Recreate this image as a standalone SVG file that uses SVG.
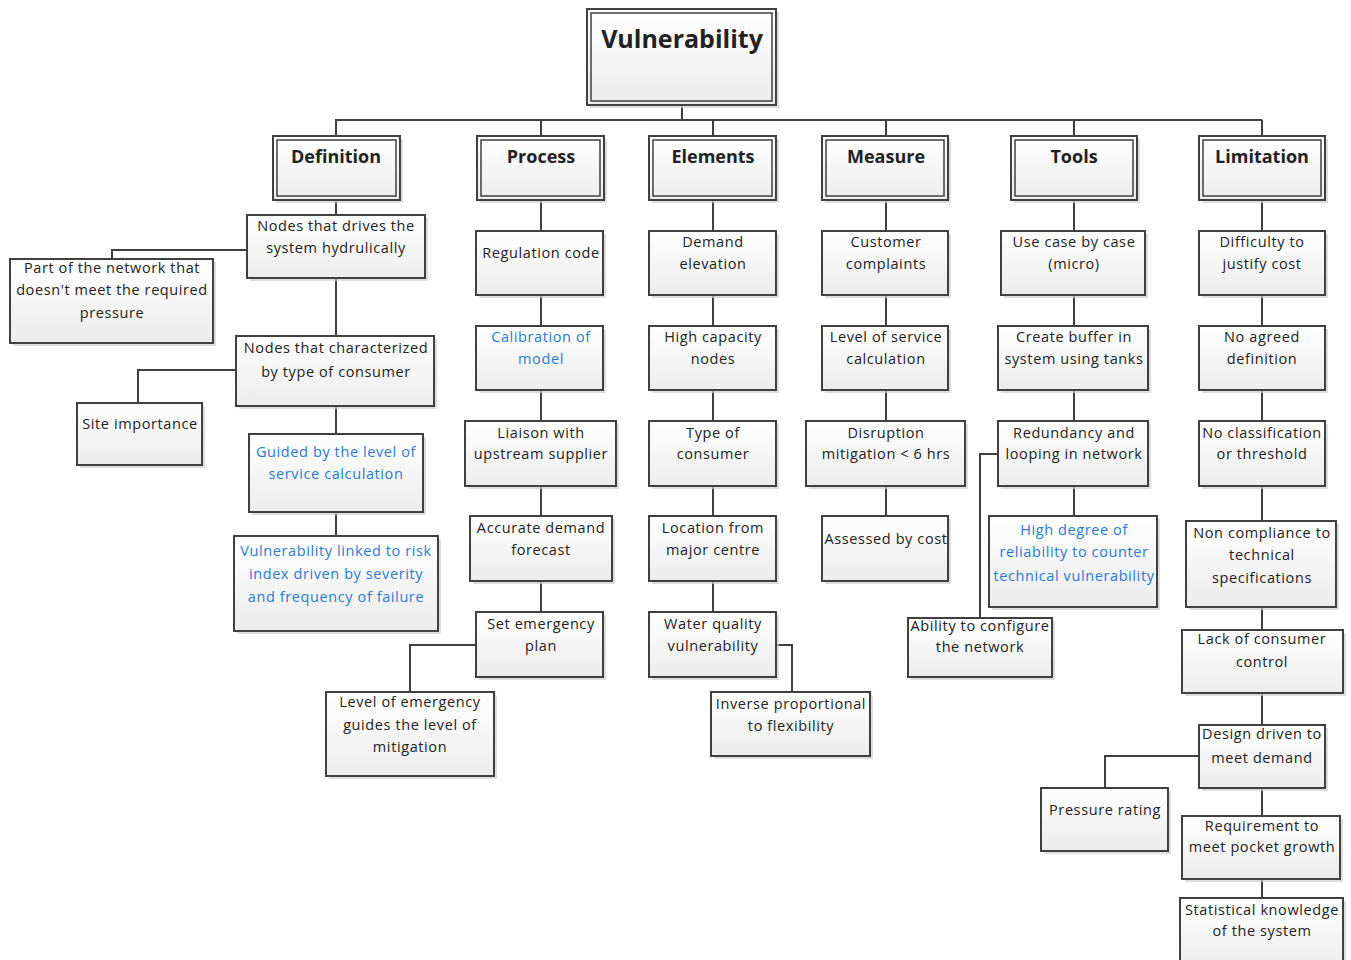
<svg xmlns="http://www.w3.org/2000/svg" width="1351" height="960" viewBox="0 0 1351 960">
  <defs>
    <linearGradient id="fillGrad" x1="0" y1="0" x2="0" y2="1">
      <stop offset="0" stop-color="#ffffff"/>
      <stop offset="1" stop-color="#ececec"/>
    </linearGradient>
    <style>
      .sh { fill: #cfcfcf; opacity: 0.7; }
      .box { fill: url(#fillGrad); stroke: #404040; stroke-width: 2; }
      .inner { fill: none; stroke: #404040; stroke-width: 1.5; }
      .t { font-family: "Open Sans", "Liberation Sans", sans-serif; font-size: 14.5px; letter-spacing: 0.6px; fill: #222; text-anchor: middle; }
      .b { fill: #2a7bd0; }
      .h { font-family: "Open Sans", "Liberation Sans", sans-serif; font-size: 18px; font-weight: bold; fill: #222; text-anchor: middle; }
      .top { font-size: 25px; }
      .c { fill: none; stroke: #404040; stroke-width: 2; }
    </style>
  </defs>
  <rect width="1351" height="960" fill="#ffffff"/>

  <!-- connectors -->
  <g id="connectors" class="c">
    <path d="M682 105 V120 M335 120 H1262 M336 120 V136 M541 120 V136 M713 120 V136 M886 120 V136 M1074 120 V136 M1262 120 V136"/>
    <!-- Definition -->
    <path d="M336 200 V215 M336 278 V336 M336 406 V434 M336 512 V536"/>
    <path d="M247 250 H112 V259"/>
    <path d="M236 370 H138 V403"/>
    <!-- Process -->
    <path d="M541 200 V231 M541 295 V326 M541 390 V421 M541 486 V516 M541 581 V612"/>
    <path d="M476 645 H410 V692"/>
    <!-- Elements -->
    <path d="M713 200 V231 M713 295 V326 M713 390 V421 M713 486 V516 M713 581 V612"/>
    <path d="M776 645 H792 V692"/>
    <!-- Measure -->
    <path d="M886 200 V231 M886 295 V326 M886 390 V421 M886 486 V516"/>
    <!-- Tools -->
    <path d="M1074 200 V231 M1074 295 V326 M1074 390 V421 M1074 486 V516"/>
    <path d="M998 454 H980 V618"/>
    <!-- Limitation -->
    <path d="M1262 200 V231 M1262 295 V326 M1262 390 V421 M1262 486 V521 M1262 607 V630 M1262 693 V725 M1262 788 V816 M1262 879 V898"/>
    <path d="M1199 756 H1105 V788"/>
  </g>

  <!-- root -->
  <g id="n-vulnerability">
    <rect class="sh" x="590" y="12" width="189" height="96"/>
    <rect class="box" x="587" y="9" width="189" height="96"/>
    <rect class="inner" x="591" y="13" width="181" height="88"/>
    <text class="h top" x="682" y="48">Vulnerability</text>
  </g>

  <!-- headers -->
  <g id="n-definition">
    <rect class="sh" x="276" y="139" width="127" height="64"/>
    <rect class="box" x="273" y="136" width="127" height="64"/>
    <rect class="inner" x="277" y="140" width="119" height="56"/>
    <text class="h" x="336" y="163">Definition</text>
  </g>
  <g id="n-process">
    <rect class="sh" x="480" y="139" width="127" height="64"/>
    <rect class="box" x="477" y="136" width="127" height="64"/>
    <rect class="inner" x="481" y="140" width="119" height="56"/>
    <text class="h" x="541" y="163">Process</text>
  </g>
  <g id="n-elements">
    <rect class="sh" x="652" y="139" width="127" height="64"/>
    <rect class="box" x="649" y="136" width="127" height="64"/>
    <rect class="inner" x="653" y="140" width="119" height="56"/>
    <text class="h" x="713" y="163">Elements</text>
  </g>
  <g id="n-measure">
    <rect class="sh" x="825" y="139" width="126" height="64"/>
    <rect class="box" x="822" y="136" width="126" height="64"/>
    <rect class="inner" x="826" y="140" width="118" height="56"/>
    <text class="h" x="886" y="163">Measure</text>
  </g>
  <g id="n-tools">
    <rect class="sh" x="1014" y="139" width="126" height="64"/>
    <rect class="box" x="1011" y="136" width="126" height="64"/>
    <rect class="inner" x="1015" y="140" width="118" height="56"/>
    <text class="h" x="1074" y="163">Tools</text>
  </g>
  <g id="n-limitation">
    <rect class="sh" x="1202" y="139" width="126" height="64"/>
    <rect class="box" x="1199" y="136" width="126" height="64"/>
    <rect class="inner" x="1203" y="140" width="118" height="56"/>
    <text class="h" x="1262" y="163">Limitation</text>
  </g>

  <!-- Definition branch -->
  <g id="n-def-1">
    <rect class="sh" x="250" y="218" width="178" height="63"/>
    <rect class="box" x="247" y="215" width="178" height="63"/>
    <text class="t" x="336" y="231">Nodes that drives the</text>
    <text class="t" x="336" y="253">system hydrulically</text>
  </g>
  <g id="n-def-1a">
    <rect class="sh" x="13" y="262" width="203" height="84"/>
    <rect class="box" x="10" y="259" width="203" height="84"/>
    <text class="t" x="112" y="273">Part of the network that</text>
    <text class="t" x="112" y="295">doesn't meet the required</text>
    <text class="t" x="112" y="318">pressure</text>
  </g>
  <g id="n-def-2">
    <rect class="sh" x="239" y="339" width="198" height="70"/>
    <rect class="box" x="236" y="336" width="198" height="70"/>
    <text class="t" x="336" y="353">Nodes that characterized</text>
    <text class="t" x="336" y="377">by type of consumer</text>
  </g>
  <g id="n-def-2a">
    <rect class="sh" x="80" y="406" width="125" height="62"/>
    <rect class="box" x="77" y="403" width="125" height="62"/>
    <text class="t" x="140" y="429">Site importance</text>
  </g>
  <g id="n-def-3">
    <rect class="sh" x="252" y="437" width="174" height="78"/>
    <rect class="box" x="249" y="434" width="174" height="78"/>
    <text class="t b" x="336" y="457">Guided by the level of</text>
    <text class="t b" x="336" y="479">service calculation</text>
  </g>
  <g id="n-def-4">
    <rect class="sh" x="237" y="539" width="204" height="95"/>
    <rect class="box" x="234" y="536" width="204" height="95"/>
    <text class="t b" x="336" y="556">Vulnerability linked to risk</text>
    <text class="t b" x="336" y="579">index driven by severity</text>
    <text class="t b" x="336" y="602">and frequency of failure</text>
  </g>

  <!-- Process branch -->
  <g id="n-pro-1">
    <rect class="sh" x="479" y="234" width="127" height="64"/>
    <rect class="box" x="476" y="231" width="127" height="64"/>
    <text class="t" x="541" y="258">Regulation code</text>
  </g>
  <g id="n-pro-2">
    <rect class="sh" x="479" y="329" width="127" height="64"/>
    <rect class="box" x="476" y="326" width="127" height="64"/>
    <text class="t b" x="541" y="342">Calibration of</text>
    <text class="t b" x="541" y="364">model</text>
  </g>
  <g id="n-pro-3">
    <rect class="sh" x="468" y="424" width="151" height="65"/>
    <rect class="box" x="465" y="421" width="151" height="65"/>
    <text class="t" x="541" y="438">Liaison with</text>
    <text class="t" x="541" y="459">upstream supplier</text>
  </g>
  <g id="n-pro-4">
    <rect class="sh" x="473" y="519" width="142" height="65"/>
    <rect class="box" x="470" y="516" width="142" height="65"/>
    <text class="t" x="541" y="533">Accurate demand</text>
    <text class="t" x="541" y="555">forecast</text>
  </g>
  <g id="n-pro-5">
    <rect class="sh" x="479" y="615" width="127" height="65"/>
    <rect class="box" x="476" y="612" width="127" height="65"/>
    <text class="t" x="541" y="629">Set emergency</text>
    <text class="t" x="541" y="651">plan</text>
  </g>
  <g id="n-pro-5a">
    <rect class="sh" x="329" y="695" width="168" height="84"/>
    <rect class="box" x="326" y="692" width="168" height="84"/>
    <text class="t" x="410" y="707">Level of emergency</text>
    <text class="t" x="410" y="730">guides the level of</text>
    <text class="t" x="410" y="752">mitigation</text>
  </g>

  <!-- Elements branch -->
  <g id="n-ele-1">
    <rect class="sh" x="652" y="234" width="127" height="64"/>
    <rect class="box" x="649" y="231" width="127" height="64"/>
    <text class="t" x="713" y="247">Demand</text>
    <text class="t" x="713" y="269">elevation</text>
  </g>
  <g id="n-ele-2">
    <rect class="sh" x="652" y="329" width="127" height="64"/>
    <rect class="box" x="649" y="326" width="127" height="64"/>
    <text class="t" x="713" y="342">High capacity</text>
    <text class="t" x="713" y="364">nodes</text>
  </g>
  <g id="n-ele-3">
    <rect class="sh" x="652" y="424" width="127" height="65"/>
    <rect class="box" x="649" y="421" width="127" height="65"/>
    <text class="t" x="713" y="438">Type of</text>
    <text class="t" x="713" y="459">consumer</text>
  </g>
  <g id="n-ele-4">
    <rect class="sh" x="652" y="519" width="127" height="65"/>
    <rect class="box" x="649" y="516" width="127" height="65"/>
    <text class="t" x="713" y="533">Location from</text>
    <text class="t" x="713" y="555">major centre</text>
  </g>
  <g id="n-ele-5">
    <rect class="sh" x="652" y="615" width="127" height="65"/>
    <rect class="box" x="649" y="612" width="127" height="65"/>
    <text class="t" x="713" y="629">Water quality</text>
    <text class="t" x="713" y="651">vulnerability</text>
  </g>
  <g id="n-ele-5a">
    <rect class="sh" x="714" y="695" width="159" height="64"/>
    <rect class="box" x="711" y="692" width="159" height="64"/>
    <text class="t" x="791" y="709">Inverse proportional</text>
    <text class="t" x="791" y="731">to flexibility</text>
  </g>

  <!-- Measure branch -->
  <g id="n-mea-1">
    <rect class="sh" x="825" y="234" width="126" height="64"/>
    <rect class="box" x="822" y="231" width="126" height="64"/>
    <text class="t" x="886" y="247">Customer</text>
    <text class="t" x="886" y="269">complaints</text>
  </g>
  <g id="n-mea-2">
    <rect class="sh" x="825" y="329" width="126" height="64"/>
    <rect class="box" x="822" y="326" width="126" height="64"/>
    <text class="t" x="886" y="342">Level of service</text>
    <text class="t" x="886" y="364">calculation</text>
  </g>
  <g id="n-mea-3">
    <rect class="sh" x="809" y="424" width="159" height="65"/>
    <rect class="box" x="806" y="421" width="159" height="65"/>
    <text class="t" x="886" y="438">Disruption</text>
    <text class="t" x="886" y="459">mitigation &lt; 6 hrs</text>
  </g>
  <g id="n-mea-4">
    <rect class="sh" x="825" y="519" width="126" height="65"/>
    <rect class="box" x="822" y="516" width="126" height="65"/>
    <text class="t" x="886" y="544">Assessed by cost</text>
  </g>

  <!-- Tools branch -->
  <g id="n-too-1">
    <rect class="sh" x="1004" y="234" width="144" height="64"/>
    <rect class="box" x="1001" y="231" width="144" height="64"/>
    <text class="t" x="1074" y="247">Use case by case</text>
    <text class="t" x="1074" y="269">(micro)</text>
  </g>
  <g id="n-too-2">
    <rect class="sh" x="1001" y="329" width="150" height="64"/>
    <rect class="box" x="998" y="326" width="150" height="64"/>
    <text class="t" x="1074" y="342">Create buffer in</text>
    <text class="t" x="1074" y="364">system using tanks</text>
  </g>
  <g id="n-too-3">
    <rect class="sh" x="1001" y="424" width="150" height="65"/>
    <rect class="box" x="998" y="421" width="150" height="65"/>
    <text class="t" x="1074" y="438">Redundancy and</text>
    <text class="t" x="1074" y="459">looping in network</text>
  </g>
  <g id="n-too-3a">
    <rect class="sh" x="911" y="621" width="144" height="59"/>
    <rect class="box" x="908" y="618" width="144" height="59"/>
    <text class="t" x="980" y="631">Ability to configure</text>
    <text class="t" x="980" y="652">the network</text>
  </g>
  <g id="n-too-4">
    <rect class="sh" x="992" y="519" width="168" height="91"/>
    <rect class="box" x="989" y="516" width="168" height="91"/>
    <text class="t b" x="1074" y="535">High degree of</text>
    <text class="t b" x="1074" y="557">reliability to counter</text>
    <text class="t b" x="1074" y="581">technical vulnerability</text>
  </g>

  <!-- Limitation branch -->
  <g id="n-lim-1">
    <rect class="sh" x="1202" y="234" width="126" height="64"/>
    <rect class="box" x="1199" y="231" width="126" height="64"/>
    <text class="t" x="1262" y="247">Difficulty to</text>
    <text class="t" x="1262" y="269">justify cost</text>
  </g>
  <g id="n-lim-2">
    <rect class="sh" x="1202" y="329" width="126" height="64"/>
    <rect class="box" x="1199" y="326" width="126" height="64"/>
    <text class="t" x="1262" y="342">No agreed</text>
    <text class="t" x="1262" y="364">definition</text>
  </g>
  <g id="n-lim-3">
    <rect class="sh" x="1202" y="424" width="126" height="65"/>
    <rect class="box" x="1199" y="421" width="126" height="65"/>
    <text class="t" x="1262" y="438">No classification</text>
    <text class="t" x="1262" y="459">or threshold</text>
  </g>
  <g id="n-lim-4">
    <rect class="sh" x="1189" y="524" width="150" height="86"/>
    <rect class="box" x="1186" y="521" width="150" height="86"/>
    <text class="t" x="1262" y="538">Non compliance to</text>
    <text class="t" x="1262" y="560">technical</text>
    <text class="t" x="1262" y="583">specifications</text>
  </g>
  <g id="n-lim-5">
    <rect class="sh" x="1185" y="633" width="161" height="63"/>
    <rect class="box" x="1182" y="630" width="161" height="63"/>
    <text class="t" x="1262" y="644">Lack of consumer</text>
    <text class="t" x="1262" y="667">control</text>
  </g>
  <g id="n-lim-6">
    <rect class="sh" x="1202" y="728" width="126" height="63"/>
    <rect class="box" x="1199" y="725" width="126" height="63"/>
    <text class="t" x="1262" y="739">Design driven to</text>
    <text class="t" x="1262" y="763">meet demand</text>
  </g>
  <g id="n-lim-6a">
    <rect class="sh" x="1044" y="791" width="127" height="63"/>
    <rect class="box" x="1041" y="788" width="127" height="63"/>
    <text class="t" x="1105" y="815">Pressure rating</text>
  </g>
  <g id="n-lim-7">
    <rect class="sh" x="1185" y="819" width="158" height="63"/>
    <rect class="box" x="1182" y="816" width="158" height="63"/>
    <text class="t" x="1262" y="831">Requirement to</text>
    <text class="t" x="1262" y="852">meet pocket growth</text>
  </g>
  <g id="n-lim-8">
    <rect class="sh" x="1183" y="901" width="163" height="70"/>
    <rect class="box" x="1180" y="898" width="163" height="70"/>
    <text class="t" x="1262" y="915">Statistical knowledge</text>
    <text class="t" x="1262" y="936">of the system</text>
  </g>
</svg>
